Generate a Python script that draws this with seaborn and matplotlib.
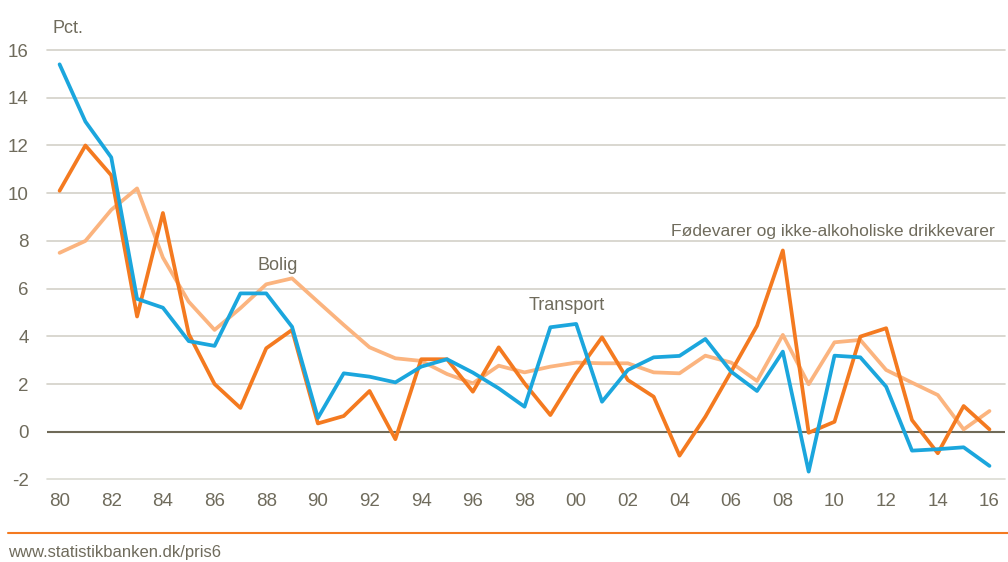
#!/usr/bin/env python3
import numpy as np
import pandas as pd
import matplotlib
matplotlib.use("Agg")
import matplotlib.pyplot as plt
import seaborn as sns

years = list(range(1980, 2017))

# Bolig (light orange)
bolig = [7.5, 8.0, 9.3, 10.2, 7.3, 5.45, 4.27, 5.18, 6.18, 6.43,
         5.45, 4.48, 3.54, 3.08, 2.97, 2.42, 2.03, 2.77, 2.49, 2.73,
         2.9, 2.87, 2.87, 2.49, 2.45, 3.19, 2.9, 2.13, 4.06, 1.99,
         3.75, 3.85, 2.59, 2.06, 1.54, 0.1, 0.87]

# Transport (blue)
transport = [15.4, 13.0, 11.5, 5.57, 5.2, 3.8, 3.6, 5.8, 5.8, 4.4,
             0.58, 2.45, 2.31, 2.07, 2.73, 3.04, 2.48, 1.82, 1.05, 4.38,
             4.52, 1.26, 2.59, 3.12, 3.18, 3.89, 2.52, 1.71, 3.36, -1.67,
             3.19, 3.12, 1.89, -0.79, -0.73, -0.65, -1.43]

# Fødevarer og ikke-alkoholiske drikkevarer (dark orange)
foedevarer = [10.1, 12.0, 10.75, 4.83, 9.17, 4.1, 2.0, 1.0, 3.5, 4.27,
              0.35, 0.66, 1.71, -0.31, 3.04, 3.04, 1.68, 3.54, 2.03, 0.7,
              2.45, 3.96, 2.17, 1.47, -1.0, 0.63, 2.52, 4.44, 7.6, -0.04,
              0.42, 3.99, 4.34, 0.49, -0.9, 1.08, 0.1]

y_ticks = list(range(-2, 17, 2))
x_ticks = list(range(1980, 2017, 2))
x_labels = [f"{y % 100:02d}" for y in x_ticks]

series = {
    "Bolig": bolig,
    "Transport": transport,
    "Fødevarer": foedevarer,
}
palette = {"Bolig": "#fbb47f", "Transport": "#1ba6dd", "Fødevarer": "#f47a20"}

df = pd.concat(
    [pd.DataFrame({"year": years, "value": v, "serie": k}) for k, v in series.items()],
    ignore_index=True,
)

sns.set_style("white")
plt.rcParams['font.family'] = ['Liberation Sans Narrow', 'Liberation Sans', 'DejaVu Sans']

txt_col = "#6f6b5c"
fig = plt.figure(figsize=(10.08, 5.62), dpi=100)
ax = fig.add_axes([0.0463, 0.1468, 0.9507, 0.7642])

for y in y_ticks:
    if y == 0:
        continue
    ax.axhline(y, color="#dcdbd3" if y == -2 else "#d3d1c8", lw=1.2, zorder=0,
               clip_on=False)
ax.axhline(0, color="#6f6a58", lw=1.5, zorder=1)

sns.lineplot(data=df, x="year", y="value", hue="serie", palette=palette,
             hue_order=["Bolig", "Fødevarer", "Transport"],
             linewidth=2.7, legend=False, ax=ax, zorder=3)

ax.set_xlim(1979.5, 2016.6)
ax.set_ylim(-2, 16)
ax.set_xticks(x_ticks)
ax.set_xticklabels(x_labels)
ax.set_yticks(y_ticks)
ax.set_yticklabels([str(t) for t in y_ticks])
ax.tick_params(axis="both", length=0, labelsize=13.5, colors=txt_col)
ax.tick_params(axis="x", pad=10)
ax.tick_params(axis="y", pad=13)
ax.set_xlabel("")
ax.set_ylabel("")
for s in ax.spines.values():
    s.set_visible(False)

ax.text(1979.72, 16.55, "Pct.", fontsize=13, color=txt_col, ha="left", va="bottom")
ax.text(1988.45, 6.6, "Bolig", fontsize=13, color=txt_col, ha="center", va="bottom")
ax.text(1999.63, 4.95, "Transport", fontsize=13, color=txt_col, ha="center", va="bottom")
ax.text(2016.2, 8.1, "Fødevarer og ikke-alkoholiske drikkevarer", fontsize=12.6,
        color=txt_col, ha="right", va="bottom")

fig.add_artist(plt.Line2D([0.008, 1.0], [1 - 533 / 562] * 2, color="#f47a20", lw=1.5))
fig.text(0.008, 1 - 553 / 562, "www.statistikbanken.dk/pris6", fontsize=12,
         color=txt_col, ha="left", va="center")

fig.savefig("out.png", dpi=100)
